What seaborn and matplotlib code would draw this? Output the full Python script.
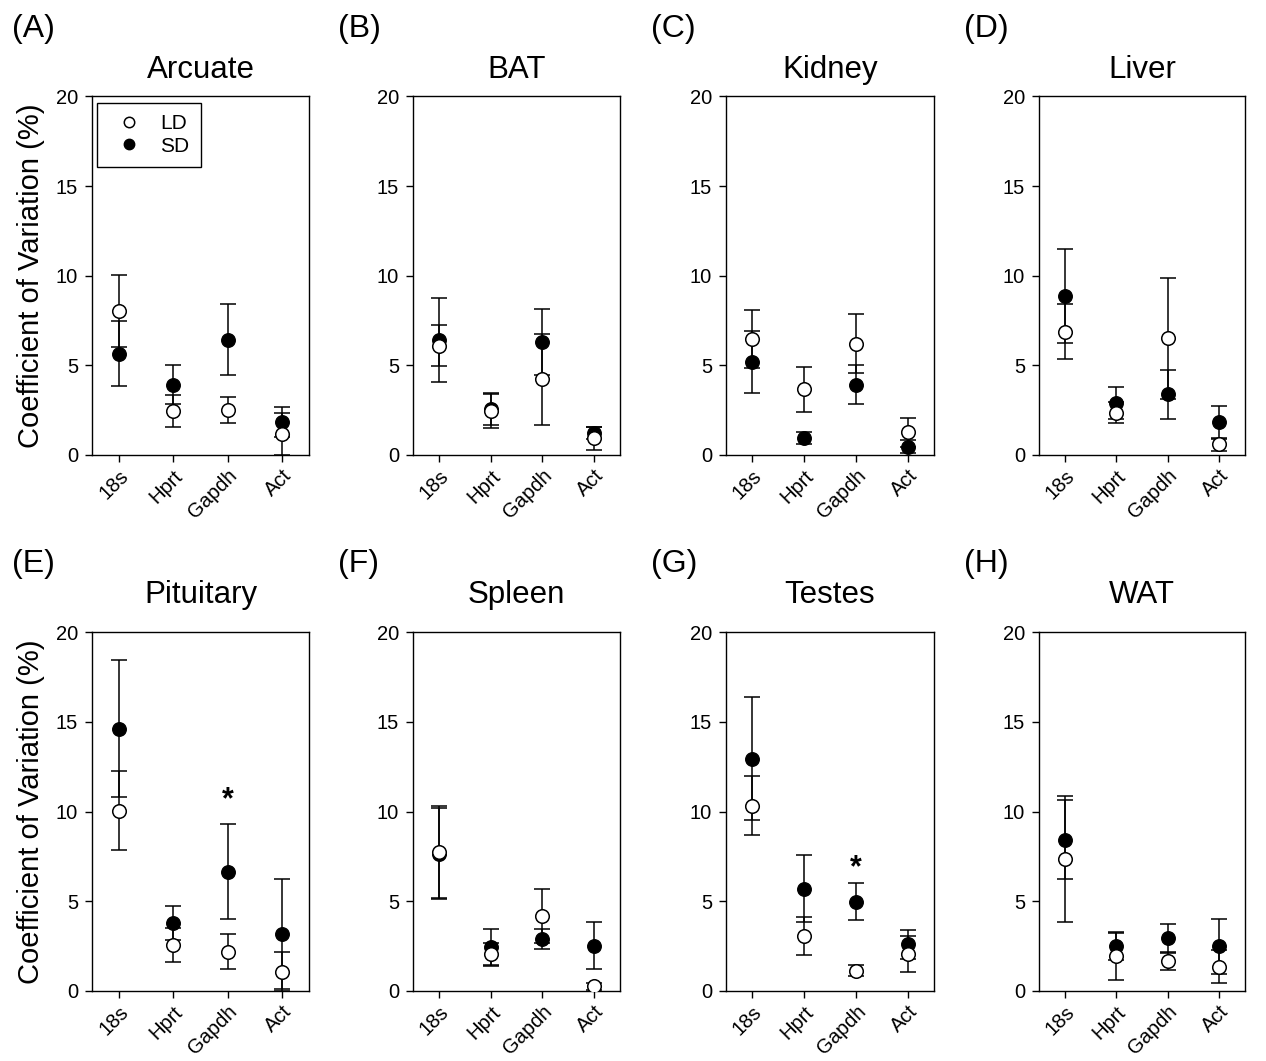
import numpy as np
import pandas as pd
import matplotlib
matplotlib.use("Agg")
import matplotlib.pyplot as plt
from matplotlib.lines import Line2D
import seaborn as sns

sns.set_style("ticks")
plt.rcParams['font.family'] = ['Liberation Sans', 'DejaVu Sans']
plt.rcParams['text.color'] = 'black'
plt.rcParams['axes.labelcolor'] = 'black'
plt.rcParams['xtick.color'] = 'black'
plt.rcParams['ytick.color'] = 'black'

genes = ["18s", "Hprt", "Gapdh", "Act"]
tissues = ["Arcuate", "BAT", "Kidney", "Liver", "Pituitary", "Spleen", "Testes", "WAT"]
letters = ["(A)", "(B)", "(C)", "(D)", "(E)", "(F)", "(G)", "(H)"]

ld_mean = [
    [8.05, 2.47, 2.53, 1.18],
    [6.09, 2.45, 4.22, 0.93],
    [6.48, 3.67, 6.22, 1.26],
    [6.88, 2.37, 6.50, 0.59],
    [10.04, 2.56, 2.19, 1.08],
    [7.74, 2.04, 4.20, 0.27],
    [10.33, 3.06, 1.13, 2.04],
    [7.35, 1.94, 1.67, 1.35],
]
ld_sem = [
    [2.00, 0.90, 0.72, 1.16],
    [1.15, 0.95, 2.55, 0.65],
    [1.63, 1.25, 1.63, 0.83],
    [1.55, 0.60, 3.37, 0.35],
    [2.20, 0.93, 0.97, 1.10],
    [2.55, 0.66, 1.50, 0.20],
    [1.64, 1.05, 0.30, 1.00],
    [3.50, 1.30, 0.50, 0.92],
]
sd_mean = [
    [5.65, 3.93, 6.44, 1.84],
    [6.40, 2.55, 6.30, 1.22],
    [5.19, 0.96, 3.93, 0.46],
    [8.86, 2.92, 3.38, 1.82],
    [14.62, 3.80, 6.64, 3.17],
    [7.65, 2.43, 2.90, 2.53],
    [12.95, 5.71, 4.97, 2.60],
    [8.44, 2.50, 2.93, 2.50],
]
sd_sem = [
    [1.80, 1.08, 2.00, 0.82],
    [2.35, 0.90, 1.85, 0.35],
    [1.75, 0.35, 1.07, 0.35],
    [2.62, 0.90, 1.35, 0.94],
    [3.83, 0.95, 2.65, 3.07],
    [2.55, 1.00, 0.55, 1.33],
    [3.45, 1.85, 1.03, 0.80],
    [2.20, 0.80, 0.80, 1.53],
]
# significance markers (tissue, gene, height of asterisk)
star_tissue = ["Pituitary", "Testes"]
star_gene = ["Gapdh", "Gapdh"]
star_height = [10.65, 6.85]

W, H = 1266, 1061
fig = plt.figure(figsize=(W / 100, H / 100), dpi=100)

col_left = [92, 413, 726, 1039]
col_width = [217, 207, 208, 206]
row_top = [96.5, 632]
row_bottom = [455, 991]
title_pad = [13.0, 21.0]
letter_y = [29, 564]

for i, tissue in enumerate(tissues):
    r, c = divmod(i, 4)
    l = col_left[c]
    w = col_width[c]
    t = row_top[r]
    b = row_bottom[r]
    ax = fig.add_axes([l / W, 1 - b / H, w / W, (b - t) / H])

    df = pd.DataFrame({
        "pos": np.arange(len(genes)),
        "gene": genes,
        "ld": ld_mean[i], "ld_err": ld_sem[i],
        "sd": sd_mean[i], "sd_err": sd_sem[i],
    })

    ax.errorbar(df["pos"], df["sd"], yerr=df["sd_err"], fmt="none", ecolor="black",
                elinewidth=1.1, capsize=5.8, capthick=1.1, zorder=2)
    ax.errorbar(df["pos"], df["ld"], yerr=df["ld_err"], fmt="none", ecolor="black",
                elinewidth=1.1, capsize=5.8, capthick=1.1, zorder=2)
    sns.scatterplot(data=df, x="pos", y="sd", ax=ax, marker="o", s=95,
                    color="black", edgecolor="black", linewidth=1.0, zorder=3)
    sns.scatterplot(data=df, x="pos", y="ld", ax=ax, marker="o", s=95,
                    color="white", edgecolor="black", linewidth=1.1, zorder=4)

    ax.set_xlim(-0.5, 3.5)
    ax.set_ylim(0, 20)
    ax.set_yticks([0, 5, 10, 15, 20])
    ax.set_xticks(np.arange(len(genes)))
    ax.set_xticklabels(genes, rotation=45, ha="right", rotation_mode="anchor")
    ax.tick_params(axis="both", length=5, width=1.0, direction="out", colors="black")
    ax.tick_params(axis="y", pad=5, labelsize=14.5)
    ax.tick_params(axis="x", pad=3, labelsize=14.5)
    for s in ax.spines.values():
        s.set_visible(True)
        s.set_linewidth(1.0)
        s.set_color("black")
    ax.set_xlabel("")
    ax.set_ylabel("")
    if c == 0:
        ax.set_ylabel("Coefficient of Variation (%)", fontsize=21, labelpad=8)
    ax.set_title(tissue, fontsize=22.5, pad=title_pad[r])

    for st, sg, sh in zip(star_tissue, star_gene, star_height):
        if st == tissue:
            ax.text(genes.index(sg), sh, "*", ha="center", va="center",
                    fontsize=22, fontweight="bold")

    lg = ax.get_legend()
    if lg is not None:
        lg.remove()
    if i == 0:
        handles = [
            Line2D([], [], marker="o", linestyle="none", markersize=7.5,
                   markerfacecolor="white", markeredgecolor="black", markeredgewidth=1.1),
            Line2D([], [], marker="o", linestyle="none", markersize=7.5,
                   markerfacecolor="black", markeredgecolor="black"),
        ]
        leg = ax.legend(handles, ["LD", "SD"], loc="upper left",
                        bbox_to_anchor=(0.023, 0.982), fontsize=15, frameon=True,
                        fancybox=False, borderpad=0.55, handletextpad=0.5,
                        handlelength=2.0, labelspacing=0.15, borderaxespad=0)
        leg.get_frame().set_edgecolor("black")
        leg.get_frame().set_linewidth(1.0)
        leg.get_frame().set_alpha(1)

    # panel letter
    fig.text((l - 80 if c == 0 else l - 75) / W, 1 - letter_y[r] / H,
             letters[i], fontsize=23, ha="left", va="center")

fig.savefig("out.png", dpi=100, facecolor="white")
